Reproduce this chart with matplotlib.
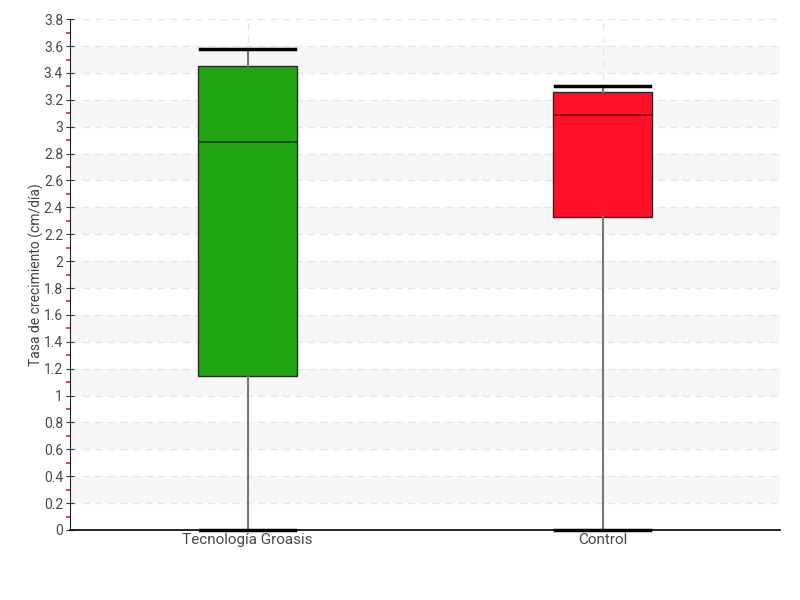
import numpy as np
import matplotlib.pyplot as plt
from matplotlib.ticker import MultipleLocator, FuncFormatter

# values
groups = ["Tecnología Groasis", "Control"]
whisker_low = [0.0, 0.0]
q1 = [1.145, 2.327]
median = [2.89, 3.085]
q3 = [3.45, 3.256]
whisker_high = [3.576, 3.30]
box_colors = ["#22a512", "#ff0f28"]
median_colors = ["#0f4a08", "#7a0010"]

plt.rcParams["font.family"] = ["Roboto", "DejaVu Sans"]

fig = plt.figure(figsize=(8, 6), dpi=100)
ax = fig.add_axes([0.0875, 0.1167, 0.8875, 0.8513])

stats = []
for i, name in enumerate(groups):
    stats.append({
        "label": name,
        "whislo": whisker_low[i],
        "q1": q1[i],
        "med": median[i],
        "q3": q3[i],
        "whishi": whisker_high[i],
        "fliers": [],
    })

# alternating bands behind the grid
for lo in np.arange(0.2, 3.8, 0.4):
    ax.axhspan(lo, lo + 0.2, color="#f7f7f7", zorder=0, lw=0)

ax.yaxis.grid(True, color="#e6e6e6", ls=(0, (5, 4)), lw=1, zorder=1)
ax.xaxis.grid(True, color="#e6e6e6", ls=(0, (5, 4)), lw=1, zorder=1)

bp = ax.bxp(stats, positions=[1, 2], widths=0.28, patch_artist=True,
            showfliers=False, zorder=3)
for i, box in enumerate(bp["boxes"]):
    box.set_facecolor(box_colors[i])
    box.set_edgecolor("#2a2a2a")
    box.set_linewidth(1)
for i, med in enumerate(bp["medians"]):
    med.set_color(median_colors[i])
    med.set_linewidth(1.2)
for w in bp["whiskers"]:
    w.set_color("#777777")
    w.set_linewidth(1.5)
for c in bp["caps"]:
    c.set_color("black")
    c.set_linewidth(2.5)
    c.set_clip_on(False)
    c.set_zorder(5)
    xd = c.get_xdata()
    mid = (xd[0] + xd[1]) / 2
    c.set_xdata([mid - 0.135, mid + 0.135])

ax.set_xlim(0.5, 2.5)
ax.set_ylim(0, 3.8)
ax.set_xticks([1, 2])
ax.set_xticklabels(groups)
ax.yaxis.set_major_locator(MultipleLocator(0.2))
ax.yaxis.set_minor_locator(MultipleLocator(0.1))
ax.yaxis.set_major_formatter(FuncFormatter(lambda v, p: "%g" % round(v, 1)))

for s in ["top", "right"]:
    ax.spines[s].set_visible(False)
ax.spines["left"].set_color("#222222")
ax.spines["bottom"].set_color("black")
ax.spines["bottom"].set_linewidth(1.2)

ax.tick_params(axis="y", which="major", direction="inout", length=6,
               color="#333333", labelsize=10, labelcolor="#4a4a4a", pad=2)
ax.tick_params(axis="y", which="minor", direction="out", length=3,
               width=1.4, color="#ff3b3b")
ax.tick_params(axis="x", length=0, labelsize=11, labelcolor="#4a4a4a", pad=2)

ax.set_ylabel("Tasa de crecimiento (cm/día)", fontsize=10, color="#444444")
ax.yaxis.set_label_coords(-0.036, 0.5)

fig.savefig("out.png", dpi=100)
